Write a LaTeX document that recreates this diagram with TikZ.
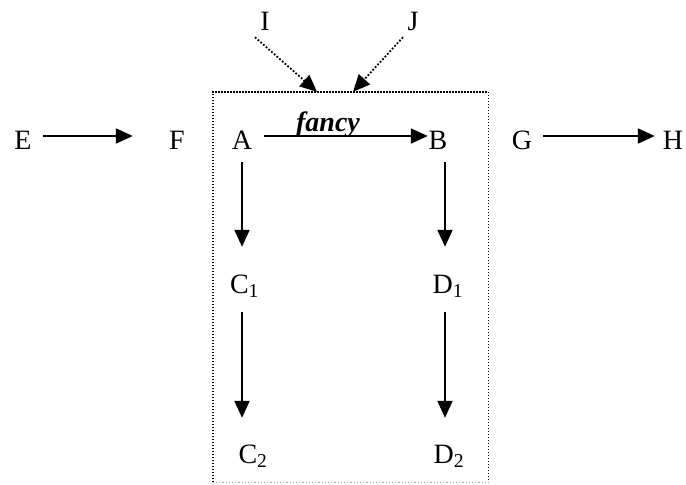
\documentclass[tikz,border=0pt]{standalone}
\usepackage{fontspec}
\setmainfont{Liberation Serif}
\usetikzlibrary{arrows.meta}
\begin{document}
\begin{tikzpicture}[x=1pt,y=-1pt,
  lbl/.style={font=\fontsize{28}{32}\selectfont, inner sep=0pt, anchor=base,
              text height=26pt, text depth=0pt},
  tip/.style={-{Triangle[length=17pt,width=15pt]}},
  arr/.style={tip, line width=2pt},
  dotarr/.style={tip, line width=1.8pt, dash pattern=on 1.8pt off 1.8pt},
  frameline/.style={line width=1.4pt, dash pattern=on 1.4pt off 1.6pt},
  framebottom/.style={line width=1.2pt, dash pattern=on 1.2pt off 2pt, black!35}]
\useasboundingbox (0,0) rectangle (686,485);

% outer row
\node[lbl] (E) at (23,149) {E};
\node[lbl] (F) at (177,149) {F};
\node[lbl] (G) at (522,149) {G};
\node[lbl] (H) at (673,149) {H};

% inner square
\node[lbl] (A) at (242,149) {A};
\node[lbl] (B) at (438,149) {B};
\node[lbl] (C1) at (244.5,293) {C\textsubscript{1}};
\node[lbl] (D1) at (448,293) {D\textsubscript{1}};
\node[lbl] (C2) at (253,463) {C\textsubscript{2}};
\node[lbl] (D2) at (449,463) {D\textsubscript{2}};

% inputs from above
\node[lbl] (I) at (265,30) {I};
\node[lbl] (J) at (413,30) {J};

% dotted frame around the square
\node[minimum width=275pt, minimum height=390pt, inner sep=0pt] (box) at (350.5,287) {};
\draw[frameline] (box.south west) -- (box.north west) -- (box.north east) -- (box.south east);
\draw[framebottom] (box.south west) -- (box.south east);

% horizontal arrows
\draw[arr, shorten <=11.4pt, shorten >=36.2pt] (E) -- (F);
\draw[arr, shorten <=10.9pt, shorten >=7.9pt] (G) -- (H);
\draw[arr, shorten <=11.9pt, shorten >=0.7pt] (A) -- (B);
\node[font=\fontsize{28}{32}\selectfont\bfseries\itshape, inner sep=0pt, anchor=base] (fancy) at (328,131) {fancy};

% vertical arrows
\draw[arr, shorten <=13pt, shorten >=20pt] (A.south) -- (A.south |- C1.north);
\draw[arr, shorten <=19pt, shorten >=19pt] (A.south |- C1.south) -- (A.south |- C2.north);
\draw[arr, shorten <=13pt, shorten >=20pt] ([xshift=7pt]B.south) -- ([xshift=7pt]B.south |- D1.north);
\draw[arr, shorten <=19pt, shorten >=19pt] ([xshift=7pt]B.south |- D1.south) -- ([xshift=7pt]B.south |- D2.north);

% dotted arrows into the frame
\draw[dotarr] ([shift={(-10,7)}]I.south) -- ([xshift=-33.5pt]box.north);
\draw[dotarr] ([shift={(-10,7)}]J.south) -- ([xshift=2.5pt]box.north);
\end{tikzpicture}
\end{document}
